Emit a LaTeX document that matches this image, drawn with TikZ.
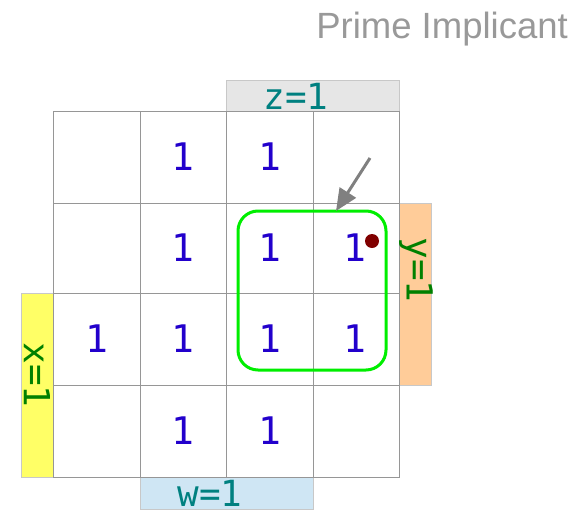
\documentclass[tikz,border=0pt]{standalone}
\usepackage{fontspec}
\setmainfont{Liberation Sans}
\newfontfamily\monof{DejaVu Sans Mono}
\usetikzlibrary{arrows.meta}
\definecolor{gridgray}{RGB}{150,150,150}
\definecolor{bandline}{RGB}{200,200,200}
\definecolor{zfill}{RGB}{230,230,230}
\definecolor{yfill}{RGB}{255,204,153}
\definecolor{xfill}{RGB}{255,255,102}
\definecolor{wfill}{RGB}{207,230,244}
\definecolor{digitblue}{RGB}{34,0,204}
\definecolor{tealtxt}{RGB}{0,128,128}
\definecolor{greentxt}{RGB}{0,128,0}
\definecolor{groupgreen}{RGB}{0,238,0}
\definecolor{dotred}{RGB}{128,0,0}
\definecolor{titlegray}{RGB}{153,153,153}
\definecolor{arrowgray}{RGB}{128,128,128}
\tikzset{
  cellbox/.style={draw=gridgray, line width=1pt},
  band/.style={draw=bandline, line width=0.8pt},
  digit/.style={text=digitblue, font=\monof\fontsize{38}{38}\selectfont, inner sep=0pt},
  varlabel/.style={font=\monof\fontsize{36}{36}\selectfont, inner sep=0pt},
}
\begin{document}
\begin{tikzpicture}[x=1pt,y=-1pt]
\useasboundingbox (0,0) rectangle (587,512);
% title
\node[anchor=base east, text=titlegray, font=\fontsize{36.5}{36.5}\selectfont, inner sep=0pt] (title) at (568,38) {Prime Implicant};
% bands
\fill[zfill] (226,80) rectangle (399,111);
\draw[band] (226,80) rectangle (399,111);
\fill[yfill] (399,203) rectangle (431,385);
\draw[band] (399,203) rectangle (431,385);
\fill[xfill] (21,293) rectangle (53,477);
\draw[band] (21,293) rectangle (53,477);
\fill[wfill] (140,477) rectangle (313,509);
\draw[band] (140,477) rectangle (313,509);
% grid
\draw[cellbox] (53,111) rectangle (399,477);
\foreach \xx in {140,226,313} \draw[cellbox] (\xx,111) -- (\xx,477);
\foreach \yy in {203,293,385} \draw[cellbox] (53,\yy) -- (399,\yy);
% labels
\node[varlabel, text=tealtxt] (zlab) at (296,96) {z=1};
\node[varlabel, text=tealtxt] (wlab) at (210,493) {w=1};
\node[varlabel, text=greentxt, rotate=-90] (ylab) at (416,270) {y=1};
\node[varlabel, text=greentxt, rotate=-90] (xlab) at (37,375) {x=1};
% digits
\node[digit] (d12) at (183,157) {1};
\node[digit] (d13) at (269.5,157) {1};
\node[digit] (d22) at (183,248) {1};
\node[digit] (d23) at (269.5,248) {1};
\node[digit] (d24) at (355,248) {1};
\node[digit] (d31) at (96.5,339) {1};
\node[digit] (d32) at (183,339) {1};
\node[digit] (d33) at (269.5,339) {1};
\node[digit] (d34) at (355,339) {1};
\node[digit] (d42) at (183,431) {1};
\node[digit] (d43) at (269.5,431) {1};
% group
\draw[groupgreen, line width=3pt, rounded corners=20pt] (238,211) rectangle (386,370);
\fill[dotred] (372,241) circle (7pt);
% arrow
\coordinate (astart) at (370,158);
\coordinate (aend) at (336,211);
\draw[arrowgray, line width=3pt, -{Triangle[length=22pt,width=19pt]}] (astart) -- (aend);
\end{tikzpicture}
\end{document}
